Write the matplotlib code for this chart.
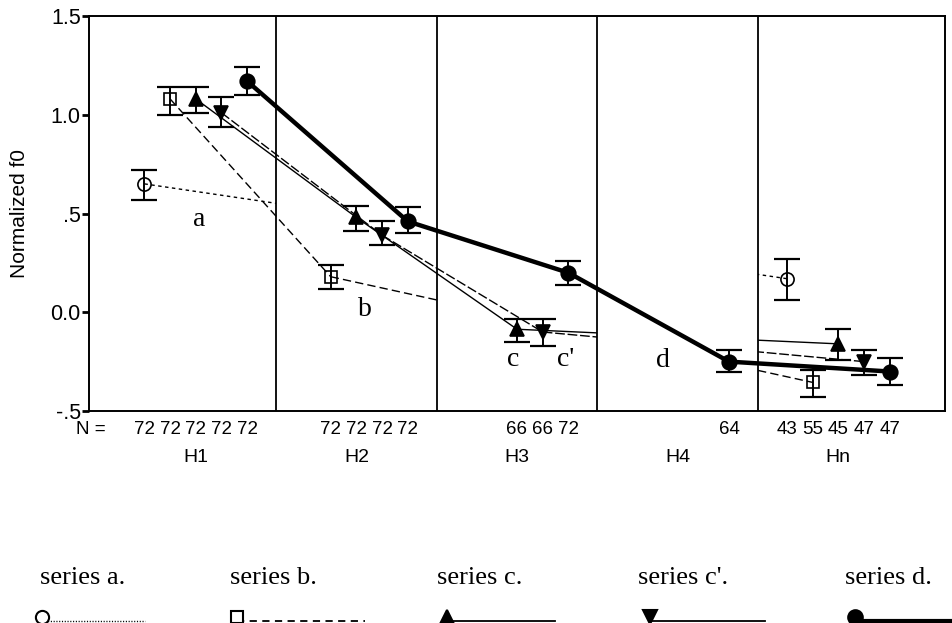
import numpy as np
import matplotlib
matplotlib.use("Agg")
import matplotlib.pyplot as plt
from matplotlib.patches import Rectangle
from matplotlib.lines import Line2D
from matplotlib import transforms

plt.rcParams['font.family'] = ['Liberation Sans', 'DejaVu Sans']

# ---------------- data ----------------
groups = ["H1", "H2", "H3", "H4", "Hn"]
series_names = ["a", "b", "c", "c'", "d"]
nan = np.nan

a_mean = [0.65, nan, nan, nan, 0.17]
a_low = [0.57, nan, nan, nan, 0.06]
a_high = [0.72, nan, nan, nan, 0.27]
a_n = [72, None, None, None, 43]

b_mean = [1.08, 0.18, nan, nan, -0.355]
b_low = [1.00, 0.12, nan, nan, -0.43]
b_high = [1.14, 0.24, nan, nan, -0.29]
b_n = [72, 72, None, None, 55]

c_mean = [1.08, 0.48, -0.086, nan, -0.16]
c_low = [1.01, 0.41, -0.15, nan, -0.24]
c_high = [1.14, 0.54, -0.035, nan, -0.085]
c_n = [72, 72, 66, None, 45]

cp_mean = [1.01, 0.39, -0.10, nan, -0.25]
cp_low = [0.94, 0.34, -0.17, nan, -0.32]
cp_high = [1.09, 0.46, -0.035, nan, -0.19]
cp_n = [72, 72, 66, None, 47]

d_mean = [1.17, 0.46, 0.20, -0.25, -0.30]
d_low = [1.10, 0.40, 0.14, -0.30, -0.37]
d_high = [1.24, 0.535, 0.26, -0.19, -0.23]
d_n = [72, 72, 72, 64, 47]

y_ticks = [-0.5, 0.0, 0.5, 1.0, 1.5]
y_tick_labels = ["-.5", "0.0", ".5", "1.0", "1.5"]

# ---------------- styles ----------------
styles = [
    dict(marker='o', mfc='none', ms=9.5, ls=(0, (2.5, 2.5)), lw=1.0),
    dict(marker='s', mfc='none', ms=8.5, ls=(0, (6, 3)), lw=1.0),
    dict(marker='^', mfc='black', ms=9.5, ls='-', lw=1.0),
    dict(marker='v', mfc='black', ms=9.5, ls=(0, (7, 2)), lw=1.0),
    dict(marker='o', mfc='black', ms=10.5, ls='-', lw=3.2),
]
series = [
    (a_mean, a_low, a_high, a_n),
    (b_mean, b_low, b_high, b_n),
    (c_mean, c_low, c_high, c_n),
    (cp_mean, cp_low, cp_high, cp_n),
    (d_mean, d_low, d_high, d_n),
]

W, H = 953, 623
fig = plt.figure(figsize=(W / 100, H / 100), dpi=100)
ax = fig.add_axes([89 / W, 1 - 411 / H, (945 - 89) / W, 395 / H])

XL = (-0.665, 4.665)
YL = (-0.5, 1.5)
ax.set_xlim(*XL)
ax.set_ylim(*YL)
slot = 0.16
ng = len(groups)


def panel_rect(g):
    left = XL[0] if g == 0 else g - 0.5
    right = XL[1] if g == ng - 1 else g + 0.5
    return Rectangle((left, YL[0]), right - left, YL[1] - YL[0],
                     transform=ax.transData)


ntrans = transforms.blended_transform_factory(ax.transData, ax.transAxes)

for k, ((mean, low, high, nn), st) in enumerate(zip(series, styles)):
    x = np.arange(ng) + (k - 2) * slot
    m = np.array(mean, dtype=float)
    lo = np.array(low, dtype=float)
    hi = np.array(high, dtype=float)
    valid = [i for i in range(ng) if not np.isnan(m[i])]
    # connecting lines
    for i, j in zip(valid[:-1], valid[1:]):
        xs, ys = [x[i], x[j]], [m[i], m[j]]
        if j == i + 1:
            ax.plot(xs, ys, color='black', ls=st['ls'], lw=st['lw'],
                    zorder=2, solid_capstyle='butt')
        else:
            for g in (i, j):
                ln, = ax.plot(xs, ys, color='black', ls=st['ls'], lw=st['lw'],
                              zorder=2, solid_capstyle='butt')
                ln.set_clip_path(panel_rect(g))
    # error bars
    ax.errorbar(x[valid], m[valid], yerr=[m[valid] - lo[valid], hi[valid] - m[valid]],
                fmt='none', ecolor='black', elinewidth=1.4, capsize=9.5,
                capthick=1.6, zorder=3)
    # markers
    ax.plot(x[valid], m[valid], ls='none', marker=st['marker'], ms=st['ms'],
            mfc=st['mfc'], mec='black', mew=1.2, zorder=4)
    # N labels
    for i in valid:
        if nn[i] is not None:
            ax.text(x[i], -0.048, str(nn[i]), transform=ntrans, ha='center',
                    va='center', fontsize=13.5, clip_on=False)

# group labels
for g, name in enumerate(groups):
    ax.text(g, -0.1165, name, transform=ntrans, ha='center', va='center',
            fontsize=14, clip_on=False)
fig.text(91 / W, 1 - 430 / H, "N =", ha='center', va='center', fontsize=13.5)

# panel dividers
for g in range(ng - 1):
    ax.axvline(g + 0.5, color='black', lw=1.3, zorder=1)

# series letters inside the plot
letter_pos = [(0.02, 0.47), (1.05, 0.012), (1.975, -0.237), (2.30, -0.237), (2.907, -0.242)]
for name, (lx, ly) in zip(series_names, letter_pos):
    ax.text(lx, ly, name, ha='center', va='center', fontsize=20,
            family='Liberation Serif', zorder=5)

# axes styling
for sp in ax.spines.values():
    sp.set_linewidth(1.4)
ax.set_xticks([])
ax.set_yticks(y_ticks)
ax.set_yticklabels(y_tick_labels, fontsize=15.5)
ax.tick_params(axis='y', direction='out', length=5, width=2, pad=1)
fig.text(20 / W, 1 - 213.5 / H, "Normalized f0", rotation=90, ha='center',
         va='center', fontsize=15)

# legend (manual, below the chart)
leg_text_x = [40, 230, 437, 638, 845]
leg_mark_x = [42, 237, 447, 650, 855]
leg_line_end = [145, 365, 555, 765, 950]
leg_ls = [(0, (0.8, 1.2)), (0, (4, 3)), '-', '-', '-']
leg_lw = [1.0, 1.3, 1.3, 1.3, 3.0]
for k, name in enumerate(series_names):
    fig.text(leg_text_x[k] / W, 1 - 584 / H, f"series {name}.", ha='left',
             va='baseline', fontsize=19, family='Liberation Serif')
    ly = 1 - 621 / H
    fig.add_artist(Line2D([leg_mark_x[k] / W, leg_line_end[k] / W], [ly, ly],
                          transform=fig.transFigure, color='black',
                          ls=leg_ls[k], lw=leg_lw[k]))
    fig.add_artist(Line2D([leg_mark_x[k] / W], [1 - 617 / H],
                          transform=fig.transFigure, ls='none',
                          marker=styles[k]['marker'], ms=styles[k]['ms'],
                          mfc='white' if styles[k]['mfc'] == 'none' else 'black',
                          mec='black', mew=1.5))

fig.savefig("out.png", dpi=100)
